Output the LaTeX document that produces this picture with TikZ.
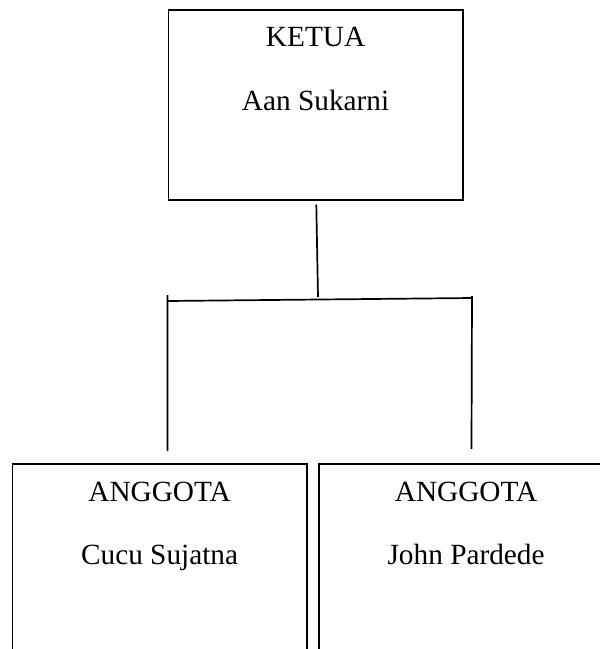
\documentclass[tikz,border=0pt]{standalone}
\usepackage{fontspec}
\setmainfont{Liberation Serif}
\usetikzlibrary{positioning}

\begin{document}
\begin{tikzpicture}[x=1pt, y=-1pt, line width=1.7pt,
    box/.style={draw, rectangle, inner sep=0pt, minimum width=294.5pt},
    txt/.style={anchor=base, inner sep=0pt, font=\fontsize{29.3}{34}\selectfont}]
    \useasboundingbox (0,0) rectangle (600,649);
    \clip (0,0) rectangle (600,649);

    % ketua
    \node[box, minimum height=190pt, anchor=north west] (ketua) at (167.5, 9.3) {};
    \node[txt, yshift=-37.4pt] (ketuatitle) at (ketua.north) {KETUA};
    \node[txt, yshift=-100.7pt] (ketuaname) at (ketua.north) {Aan Sukarni};

    % anggota
    \node[box, minimum height=250pt, anchor=north west] (cucu) at (11.5, 463) {};
    \node[txt, yshift=-38pt] (cucutitle) at (cucu.north) {ANGGOTA};
    \node[txt, yshift=-101.3pt] (cucuname) at (cucu.north) {Cucu Sujatna};
    \node[box, minimum height=250pt, anchor=north west] (john) at (318, 463) {};
    \node[txt, yshift=-38pt] (johntitle) at (john.north) {ANGGOTA};
    \node[txt, yshift=-101.3pt] (johnname) at (john.north) {John Pardede};

    % garis
    \coordinate (hub) at (318, 297);
    \coordinate (branchL) at (167.5, 301);
    \coordinate (branchR) at (472, 298);
    \coordinate (dropL) at (167.6, 451);
    \coordinate (dropR) at (471.5, 449);
    \draw ([shift={(0.7,3.5)}]ketua.south) -- (hub);
    \draw (branchL) -- (branchR);
    \draw ([yshift=6pt]branchL) -- (dropL);
    \draw ([yshift=2pt]branchR) -- (dropR);
\end{tikzpicture}
\end{document}
